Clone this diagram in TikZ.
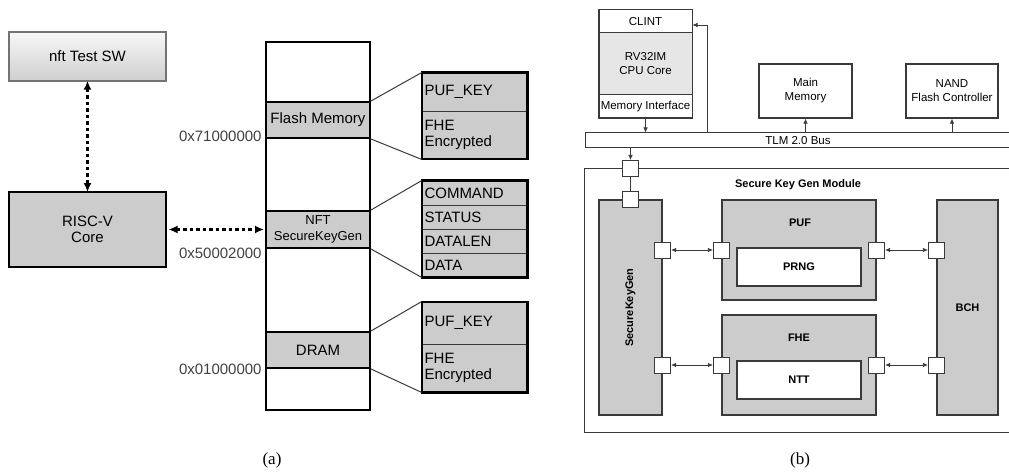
\documentclass[tikz,border=0pt]{standalone}
\usepackage{fontspec}
\setmainfont{Liberation Sans}
\newfontfamily\capfont{Liberation Serif}
\usetikzlibrary{arrows.meta}
\definecolor{boxgray}{HTML}{CCCCCC}
\definecolor{coregray}{HTML}{E6E6E6}
\definecolor{linegray}{HTML}{3A3A3A}

\begin{document}
\begin{tikzpicture}[x=1pt,y=-1pt,line width=0.8pt,
  bigtxt/.style={font=\fontsize{15}{16.5}\selectfont},
  smtxt/.style={font=\fontsize{11.5}{14}\selectfont},
  bftxt/.style={font=\fontsize{11}{13}\selectfont\bfseries},
  memband/.style={draw=black,line width=2pt,fill=boxgray,minimum width=104pt,inner sep=0pt,bigtxt},
  regrow/.style={draw=linegray,line width=0.8pt,fill=boxgray,text width=100pt,inner xsep=2.5pt,inner ysep=0pt,align=left,bigtxt},
  regbox/.style={draw=black,line width=2.2pt},
  zoomln/.style={draw=linegray,line width=1pt},
  dotarr/.style={{Latex[length=9pt,width=8pt]}-{Latex[length=9pt,width=8pt]},dash pattern=on 3.5pt off 3pt,line width=2.1pt},
  plainbox/.style={draw=linegray,line width=1pt,fill=white,inner sep=0pt,smtxt},
  grayblk/.style={draw=linegray,line width=1.2pt,fill=boxgray,inner sep=0pt},
  whiteblk/.style={draw=linegray,line width=1.2pt,fill=white,inner sep=0pt,bftxt},
  port/.style={draw=linegray,line width=1pt,fill=white,minimum size=16pt,inner sep=0pt},
  sarr/.style={draw=linegray,line width=0.7pt,-{Latex[length=5pt,width=4.5pt]}},
  dblarr/.style={draw=linegray,line width=0.7pt,{Latex[length=5pt,width=4.5pt]}-{Latex[length=5pt,width=4.5pt]}},
  caption/.style={font=\capfont\fontsize{17}{19}\selectfont}]
\useasboundingbox (0,0) rectangle (1009,473);

% (a) 软件与处理器
\node[draw=black!55,line width=2pt,top color=gray!6,bottom color=gray!38,minimum width=157pt,minimum height=49pt,bigtxt] (sw) at (87.5,56.5) {nft Test SW};
\node[draw=black,line width=2.5pt,fill=boxgray,minimum width=157pt,minimum height=75pt,align=center,bigtxt] (riscv) at (87.5,229.5) {RISC-V\\Core};

% 地址空间
\node[draw=black,line width=2pt,minimum width=104pt,minimum height=368pt,inner sep=0pt] (memcol) at (318,226) {};
\node[memband,minimum height=36pt] (flash) at (318,120) {Flash Memory};
\node[memband,minimum height=37pt,font=\fontsize{13}{16}\selectfont,align=center] (nftkg) at (318,229.5) {NFT\\SecureKeyGen};
\node[memband,minimum height=36pt] (dram) at (318,350) {DRAM};

% 虚线双向箭头
\draw[dotarr] ([yshift=1.3pt]sw.south) -- ([yshift=-1.3pt]riscv.north);
\draw[dotarr] ([xshift=1.3pt]riscv.east) -- ([xshift=-1pt]riscv.east -| memcol.west);

% 地址标注
\node[bigtxt,anchor=east,text=black!75,inner sep=0pt] (a71) at (262,136) {0x71000000};
\node[bigtxt,anchor=east,text=black!75,inner sep=0pt] (a50) at (262,253) {0x50002000};
\node[bigtxt,anchor=east,text=black!75,inner sep=0pt] (a01) at (262,369) {0x01000000};

% Flash 内容
\node[regrow,minimum height=38pt] (k1a) at (474.5,92) {PUF\_KEY};
\node[regrow,minimum height=48pt] (k1b) at (474.5,135) {FHE\\Encrypted};
\draw[regbox] (k1a.north west) rectangle (k1b.south east);
\draw[zoomln] (flash.north east) -- (k1a.north west);
\draw[zoomln] (flash.south east) -- (k1b.south west);

% 寄存器
\node[regrow,minimum height=24pt] (rcmd) at (474.5,193) {COMMAND};
\node[regrow,minimum height=24pt] (rst) at (474.5,217) {STATUS};
\node[regrow,minimum height=24pt] (rlen) at (474.5,241) {DATALEN};
\node[regrow,minimum height=24pt] (rdat) at (474.5,265) {DATA};
\draw[regbox] (rcmd.north west) rectangle (rdat.south east);
\draw[zoomln] (nftkg.north east) -- (rcmd.north west);
\draw[zoomln] (nftkg.south east) -- (rdat.south west);

% DRAM 内容
\node[regrow,minimum height=42pt] (k2a) at (474.5,323) {PUF\_KEY};
\node[regrow,minimum height=48pt] (k2b) at (474.5,368) {FHE\\Encrypted};
\draw[regbox] (k2a.north west) rectangle (k2b.south east);
\draw[zoomln] (dram.north east) -- (k2a.north west);
\draw[zoomln] (dram.south east) -- (k2b.south west);

\node[caption] (capa) at (272,460) {(a)};

% (b) CPU
\node[plainbox,minimum width=93pt,minimum height=23pt] (clint) at (645.5,21.5) {CLINT};
\node[plainbox,fill=coregray,minimum width=93pt,minimum height=62pt,align=center] (core) at (645.5,64) {RV32IM\\CPU Core};
\node[plainbox,minimum width=93pt,minimum height=23pt] (memif) at (645.5,106.5) {Memory Interface};
\draw[draw=linegray,line width=1.6pt] (clint.north west) rectangle (memif.south east);

% 存储与控制器
\node[plainbox,line width=1.4pt,minimum width=93pt,minimum height=54pt,align=center] (mainmem) at (805.5,91) {Main\\Memory};
\node[plainbox,line width=1.4pt,minimum width=92pt,minimum height=54pt,align=center] (nand) at (952,91) {NAND\\Flash Controller};

% 总线
\node[plainbox,minimum width=426pt,minimum height=15pt] (bus) at (798,140.5) {TLM 2.0 Bus};
\coordinate (clinttap) at (707,25);
\draw[sarr] (memif.south) -- (memif.south |- bus.north);
\draw[sarr] (mainmem.south |- bus.north) -- (mainmem.south);
\draw[sarr] (nand.south |- bus.north) -- (nand.south);
\draw[sarr] (bus.north -| clinttap) |- (clinttap -| clint.east);

% Secure Key Gen 模块
\node[draw=linegray,line width=1pt,minimum width=427pt,minimum height=263pt,inner sep=0pt] (skgmod) at (797.5,300.5) {};
\node[bftxt] (modtitle) at (798,185) {Secure Key Gen Module};
\node[grayblk,minimum width=63pt,minimum height=215pt] (skg) at (630.5,307.5) {};
\node[bftxt,rotate=90] (skgtxt) at (skg.center) {SecureKeyGen};
\node[grayblk,minimum width=154pt,minimum height=100pt] (puf) at (799,250) {};
\node[bftxt] (puftxt) at (800,223) {PUF};
\node[whiteblk,minimum width=124pt,minimum height=38pt] (prng) at (799,267) {PRNG};
\node[grayblk,minimum width=154pt,minimum height=100pt] (fhe) at (799,365) {};
\node[bftxt] (fhetxt) at (799,338) {FHE};
\node[whiteblk,minimum width=124pt,minimum height=38pt] (ntt) at (799,380) {NTT};
\node[grayblk,minimum width=61pt,minimum height=215pt,bftxt] (bch) at (967.5,307.5) {BCH};

% 端口
\node[port] (pa) at (skg.north |- skgmod.north) {};
\node[port] (pb) at (skg.north) {};
\node[port] (s1) at (skg.east |- puf.west) {};
\node[port] (s2) at (skg.east |- fhe.west) {};
\node[port] (pw) at (puf.west) {};
\node[port] (pe) at (puf.east) {};
\node[port] (fw) at (fhe.west) {};
\node[port] (fe) at (fhe.east) {};
\node[port] (b1) at (bch.west |- puf.east) {};
\node[port] (b2) at (bch.west |- fhe.east) {};

% 连线
\draw[sarr] (bus.south -| pa) -- (pa.north);
\draw[draw=linegray,line width=0.8pt] (pa) -- (pb);
\draw[dblarr] (s1) -- (pw);
\draw[dblarr] (pe) -- (b1);
\draw[dblarr] (s2) -- (fw);
\draw[dblarr] (fe) -- (b2);

\node[caption] (capb) at (800,460) {(b)};
\end{tikzpicture}
\end{document}
